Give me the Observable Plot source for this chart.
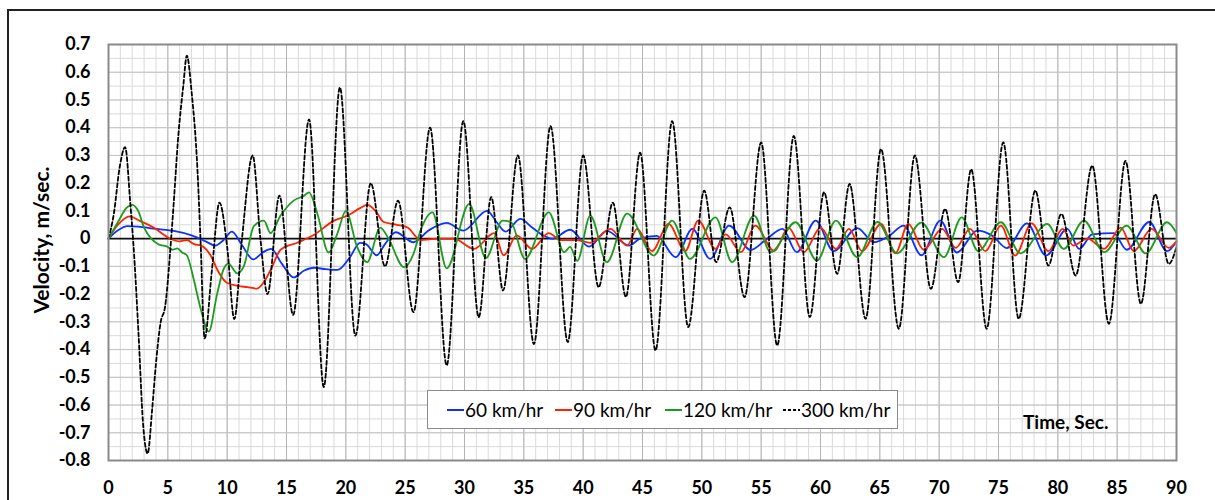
<!DOCTYPE html>
<html>
<head>
<meta charset="utf-8">
<script src="https://cdn.jsdelivr.net/npm/d3@7"></script>
<script src="https://cdn.jsdelivr.net/npm/@observablehq/plot@0.6"></script>
<style>
  html, body { margin: 0; padding: 0; background: #fff; }
  #wrap { position: relative; width: 1215px; height: 500px; overflow: hidden; font-family: Lato, "Open Sans", sans-serif; }
  #outer { position: absolute; left: 7px; top: 9px; width: 1215px; height: 520px; border: 2px solid #222; box-sizing: border-box; }
  #chart { position: absolute; left: 0; top: 0; }
  #ytitle { position: absolute; left: 40px; top: 240px; transform: translate(-50%, -50%) rotate(-90deg); font-weight: bold; font-size: 21px; white-space: nowrap; }
  #legend { position: absolute; left: 427px; top: 390px; width: 471px; height: 39px; background: #fff; border: 1px solid #8a8a8a; box-sizing: border-box; font-size: 19px; }
  .item { position: absolute; top: 7px; display: flex; align-items: center; white-space: nowrap; }
  .item svg { margin-right: 1px; }
</style>
</head>
<body>
<div id="wrap">
  <div id="outer"></div>
  <div id="chart"></div>
  <div id="ytitle">Velocity, m/sec.</div>
  <div id="legend"></div>
</div>
<script>
// ---- data ----
const xTicks = [0, 5, 10, 15, 20, 25, 30, 35, 40, 45, 50, 55, 60, 65, 70, 75, 80, 85, 90];
const yTicks = [0.7, 0.6, 0.5, 0.4, 0.3, 0.2, 0.1, 0, -0.1, -0.2, -0.3, -0.4, -0.5, -0.6, -0.7, -0.8];
const seriesNames = ["60 km/hr", "90 km/hr", "120 km/hr", "300 km/hr"];

const v60 = [[0,0],[0.8,0.03],[1.6,0.045],[2.5,0.043],[4.0,0.035],[5.5,0.028],[7.0,0.012],[8.2,-0.01],[9.0,-0.025],[9.7,-0.005],[10.4,0.025],[11.2,-0.02],[12.2,-0.075],[13.0,-0.05],[13.7,-0.037],[14.6,-0.09],[15.6,-0.14],[16.5,-0.115],[17.3,-0.105],[18.3,-0.11],[19.3,-0.113],[20.3,-0.07],[21.2,-0.015],[21.7,-0.02],[22.6,-0.06],[23.3,-0.02],[24.2,0.023],[25.7,-0.013],[27.0,0.03],[28.5,0.057],[29.9,0.029],[31.9,0.10],[32.7,0.06],[33.45,0.025],[34.7,0.071],[35.7,0.04],[36.5,0.015],[37.4,0.0],[38.9,0.032],[40.5,-0.029],[42.0,0.028],[43.85,-0.025],[44.8,0.0],[46.2,0.01],[47.8,-0.067],[49.2,0.035],[50.7,-0.073],[52.3,0.047],[54.1,-0.041],[55.5,0.0],[56.8,0.035],[58.0,-0.049],[59.6,0.065],[61.1,-0.045],[63.1,0.038],[64.5,-0.013],[65.8,0.01],[67.0,0.047],[68.5,-0.06],[70.1,0.065],[71.5,-0.05],[73.2,0.029],[74.5,0.01],[75.7,-0.034],[77.4,0.055],[79.0,-0.061],[80.8,0.035],[81.8,-0.037],[82.9,0.015],[84.7,0.02],[85.8,-0.04],[87.7,0.06],[89.2,-0.045],[90,-0.01]];

const v90 = [[0,0],[0.8,0.05],[1.8,0.08],[2.6,0.065],[3.8,0.04],[5.2,0.0],[6.0,-0.01],[6.6,-0.005],[7.2,-0.02],[7.8,-0.025],[8.6,-0.06],[9.2,-0.115],[10.0,-0.16],[10.9,-0.17],[11.7,-0.175],[12.5,-0.18],[13.2,-0.15],[13.8,-0.1],[14.5,-0.04],[15.9,-0.015],[17.3,0.013],[19.0,0.065],[20.25,0.085],[21.2,0.11],[21.8,0.122],[22.5,0.10],[23.2,0.06],[24.3,0.05],[25.2,0.04],[26.3,-0.005],[27.7,0.0],[29.1,0.0],[30.8,-0.037],[32.5,0.02],[33.3,-0.06],[34.4,0.012],[35.7,-0.037],[37.1,0.02],[38.1,-0.005],[39.4,-0.005],[40.6,-0.015],[42.3,0.035],[43.7,-0.025],[44.55,0.035],[45.8,-0.045],[47.2,0.053],[48.6,-0.045],[49.7,0.065],[51.15,-0.037],[52.0,0.015],[53.3,-0.049],[54.5,0.047],[56.1,-0.045],[57.3,0.04],[58.6,-0.049],[60.0,0.04],[61.3,-0.037],[62.4,0.035],[63.5,-0.045],[65.1,0.053],[66.3,-0.053],[67.4,0.053],[68.7,-0.04],[70.25,0.035],[71.4,-0.033],[72.6,0.035],[73.9,-0.045],[75.2,0.047],[76.4,-0.061],[77.8,0.055],[79.2,-0.045],[80.4,0.035],[81.3,-0.025],[82.5,0.0],[83.9,-0.037],[85.3,0.04],[86.4,-0.045],[87.9,0.035],[89.35,-0.033],[90,-0.01]];

const v120 = [[0,0],[0.8,0.06],[1.5,0.11],[2.0,0.122],[2.5,0.1],[3.0,0.04],[3.6,0.0],[4.2,-0.02],[5.0,-0.03],[5.4,-0.04],[5.8,-0.035],[6.2,-0.05],[6.6,-0.06],[7.2,-0.15],[7.75,-0.25],[8.45,-0.335],[9.15,-0.2],[9.7,-0.11],[10.1,-0.09],[10.85,-0.125],[11.4,-0.1],[12.25,0.045],[13.1,0.065],[13.65,0.02],[14.5,0.083],[15.6,0.137],[16.5,0.155],[16.9,0.167],[17.6,0.09],[18.55,-0.05],[19.3,0.02],[20.0,0.1],[20.95,-0.03],[21.8,-0.085],[22.9,0.04],[23.6,0.0],[24.9,-0.103],[25.7,-0.055],[26.3,0.03],[27.3,0.095],[28.5,-0.107],[30.4,0.125],[31.8,-0.07],[33.2,0.065],[33.9,0.06],[35.1,-0.073],[37.1,0.095],[38.4,-0.049],[38.9,-0.03],[39.5,-0.08],[40.6,0.083],[42.0,-0.085],[43.7,0.09],[45.95,-0.061],[47.5,0.065],[49.0,-0.073],[51.15,0.077],[52.55,-0.085],[54.4,0.083],[55.8,-0.049],[57.9,0.059],[59.7,-0.079],[61.3,0.065],[63.1,-0.067],[64.8,0.06],[66.45,-0.053],[68.5,0.058],[70.4,-0.067],[71.9,0.077],[73.3,-0.045],[75.2,0.059],[76.85,-0.053],[79.1,0.053],[80.5,-0.037],[82.2,0.065],[83.9,-0.049],[85.8,0.047],[87.4,-0.053],[89.2,0.059],[90,0.02]];

const v300 = [[0,0],[0.45,0.09],[0.95,0.26],[1.4,0.33],[1.85,0.12],[2.1,-0.02],[2.55,-0.36],[2.9,-0.66],[3.3,-0.775],[3.67,-0.62],[4.0,-0.45],[4.4,-0.3],[4.75,-0.25],[5.4,0.07],[5.9,0.38],[6.3,0.55],[6.6,0.66],[7.0,0.53],[7.5,0.245],[7.75,0.0],[8.1,-0.36],[8.7,-0.12],[9.35,0.13],[10.0,-0.03],[10.6,-0.29],[11.25,0.0],[12.15,0.30],[12.8,0.0],[13.4,-0.2],[14.4,0.155],[15.56,-0.275],[16.9,0.43],[18.14,-0.535],[19.5,0.545],[20.8,-0.35],[22.1,0.2],[23.3,-0.1],[24.4,0.137],[25.7,-0.265],[27.1,0.4],[28.5,-0.457],[29.9,0.424],[31.2,-0.283],[32.25,0.15],[33.25,-0.187],[34.5,0.30],[35.85,-0.38],[37.25,0.406],[38.7,-0.373],[40.0,0.30],[41.3,-0.175],[42.5,0.13],[43.6,-0.21],[44.8,0.31],[46.1,-0.403],[47.5,0.424],[48.85,-0.319],[50.2,0.173],[51.2,-0.085],[52.35,0.113],[53.6,-0.211],[55.0,0.347],[56.35,-0.385],[57.75,0.37],[59.1,-0.283],[60.3,0.167],[61.4,-0.127],[62.45,0.197],[63.8,-0.289],[65.1,0.323],[66.6,-0.325],[67.95,0.30],[69.3,-0.181],[70.5,0.107],[71.6,-0.157],[72.7,0.25],[74.0,-0.325],[75.4,0.347],[76.7,-0.289],[78.1,0.173],[79.2,-0.097],[80.3,0.089],[81.5,-0.133],[82.9,0.263],[84.3,-0.307],[85.7,0.28],[87.0,-0.235],[88.2,0.16],[89.35,-0.091],[90,-0.03]];

const colors = ["#0a32ff", "#ff2200", "#1e9a1e", "#000000"];

// ---- build table ----
const toRows = (arr, name) => arr.map(([t, v]) => ({t, v, s: name}));
const rows60 = toRows(v60, seriesNames[0]);
const rows90 = toRows(v90, seriesNames[1]);
const rows120 = toRows(v120, seriesNames[2]);
const rows300 = toRows(v300, seriesNames[3]);

const minorX = d3.range(0, 91, 1);
const minorY = d3.range(-16, 15, 1).map(i => +(i * 0.05).toFixed(2));

const chart = Plot.plot({
  width: 1215,
  height: 500,
  marginLeft: 108,
  marginRight: 39,
  marginTop: 44,
  marginBottom: 40,
  style: { fontFamily: "Lato, 'Open Sans', sans-serif", fontSize: "18px", fontWeight: "bold", color: "#000", background: "transparent", overflow: "visible" },
  x: { domain: [0, 90], ticks: xTicks, tickFormat: d => String(d), tickSize: 0, tickPadding: 21, label: null },
  y: { domain: [-0.8, 0.7], ticks: yTicks, tickFormat: d => (Math.abs(d) < 1e-9 ? "0" : d.toFixed(1)), tickSize: 0, tickPadding: 18, label: null },
  marks: [
    Plot.ruleX(minorX, { stroke: "#dadada", strokeWidth: 1 }),
    Plot.ruleY(minorY, { stroke: "#dadada", strokeWidth: 1 }),
    Plot.ruleX(xTicks, { stroke: "#b4b4b4", strokeWidth: 1 }),
    Plot.ruleY(yTicks, { stroke: "#c4c4c4", strokeWidth: 1 }),
    Plot.ruleY([0], { stroke: "#111", strokeWidth: 1.8 }),
    Plot.line(rows60, { x: "t", y: "v", stroke: colors[0], strokeWidth: 1.8, curve: "monotone-x" }),
    Plot.line(rows90, { x: "t", y: "v", stroke: colors[1], strokeWidth: 1.8, curve: "monotone-x" }),
    Plot.line(rows120, { x: "t", y: "v", stroke: colors[2], strokeWidth: 1.8, curve: "monotone-x" }),
    Plot.line(rows300, { x: "t", y: "v", stroke: colors[3], strokeWidth: 1.8, strokeDasharray: "4,2.5", curve: "monotone-x" }),
    Plot.frame({ stroke: "#8a8a8a", strokeWidth: 2 }),
    Plot.text(["Time, Sec."], { frameAnchor: "bottom-right", dx: -68, dy: -32, fontSize: 19, fontWeight: "bold", textAnchor: "end", fill: "#000" })
  ]
});
document.getElementById("chart").appendChild(chart);

// ---- legend ----
const legend = document.getElementById("legend");
const legendLeft = [19, 127, 237, 355];
seriesNames.forEach((name, i) => {
  const it = document.createElement("div");
  it.className = "item";
  it.style.left = legendLeft[i] + "px";
  const dash = i === 3 ? 'stroke-dasharray="3,2"' : "";
  it.innerHTML = `<svg width="17" height="22"><line x1="0" x2="17" y1="11" y2="11" stroke="${colors[i]}" stroke-width="2" ${dash}/></svg><span>${name}</span>`;
  legend.appendChild(it);
});
</script>
</body>
</html>
